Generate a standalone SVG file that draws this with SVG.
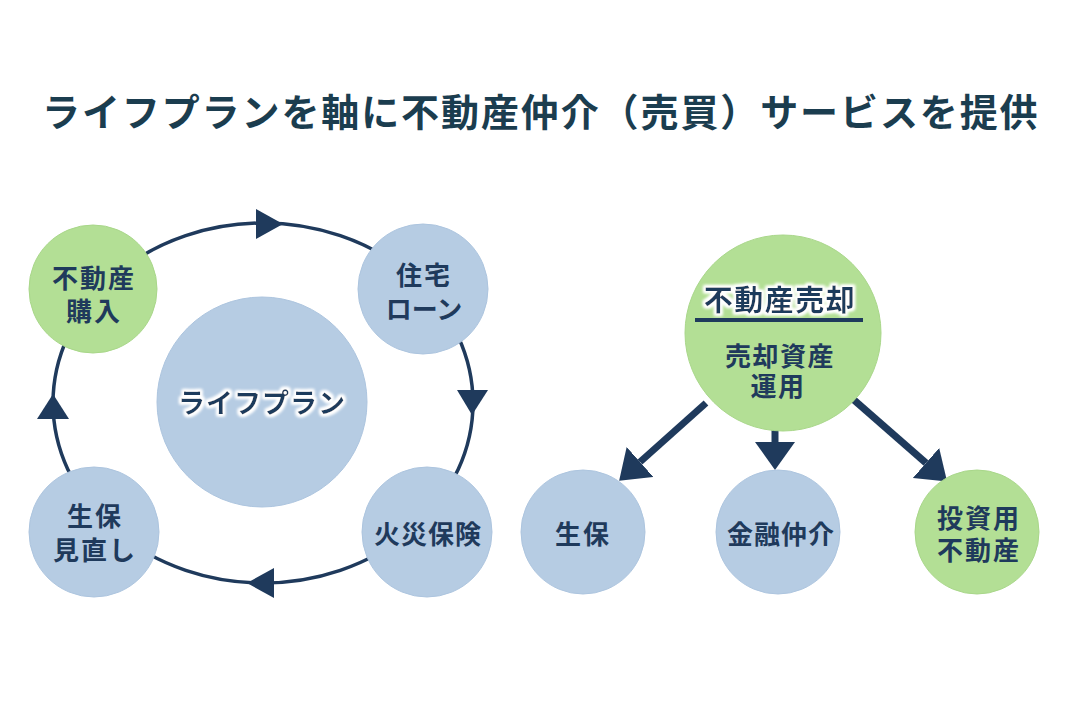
<svg xmlns="http://www.w3.org/2000/svg" width="1080" height="720" viewBox="0 0 1080 720">
<style>
.t{font-family:"Noto Sans CJK JP","Noto Sans",sans-serif;font-weight:700;fill:#1f3a5c;text-anchor:middle;dominant-baseline:central}
.title{font-family:"Noto Sans CJK JP","Noto Sans",sans-serif;font-weight:700;fill:#1b3d4f;font-size:38px;letter-spacing:1.9px}
.blue{fill:#b6cce3;stroke:#adc5df;stroke-width:1}
.green{fill:#b3df95;stroke:#a9d78a;stroke-width:1}
.ring{fill:none;stroke:#1f3a5c;stroke-width:3.5}
.shaft{stroke:#1f3a5c;stroke-width:7;fill:none}
.head{fill:#1f3a5c}
</style>
<defs>
<marker id="ah" markerUnits="userSpaceOnUse" markerWidth="28" markerHeight="40" viewBox="0 0 28 40" refX="0" refY="20" orient="auto">
<path d="M0,0 L28,20 L0,40 z" fill="#1f3a5c"/>
</marker>
<filter id="glow" x="-20%" y="-50%" width="140%" height="200%">
<feMorphology in="SourceAlpha" operator="dilate" radius="2" result="d"/>
<feGaussianBlur in="d" stdDeviation="1.6" result="b"/>
<feFlood flood-color="#ffffff"/>
<feComposite in2="b" operator="in" result="g"/>
<feMerge><feMergeNode in="g"/><feMergeNode in="g"/><feMergeNode in="SourceGraphic"/></feMerge>
</filter>
</defs>
<rect width="1080" height="720" fill="#ffffff"/>
<text id="title" class="title" x="42" y="126">ライフプランを軸に不動産仲介（売買）サービスを提供</text>

<g id="connectors">
<ellipse class="ring" cx="263" cy="403" rx="210" ry="180"/>
<path class="head" d="M256,209 L283,224 L256,239 z"/>
<path class="head" d="M457,390 L488,390 L472,415 z"/>
<path class="head" d="M274,568 L247,583 L274,598 z"/>
<path class="head" d="M37,419 L69,419 L53,394 z"/>
<line class="shaft" x1="775" y1="428" x2="775" y2="442" marker-end="url(#ah)"/>
<line class="shaft" x1="706" y1="403" x2="640" y2="462" marker-end="url(#ah)"/>
<line class="shaft" x1="854" y1="400" x2="926" y2="463" marker-end="url(#ah)"/>
</g>

<g id="lifeplan">
<circle class="blue" cx="262" cy="402" r="105"/>
<text class="t" x="262" y="401" font-size="27" letter-spacing="1" filter="url(#glow)">ライフプラン</text>
</g>
<g id="fudosan-kounyu">
<circle class="green" cx="93" cy="289" r="64"/>
<text class="t" x="94" y="276" font-size="26" letter-spacing="2">不動産</text>
<text class="t" x="94" y="309" font-size="26" letter-spacing="2">購入</text>
</g>
<g id="jutaku-loan">
<circle class="blue" cx="423" cy="289" r="65"/>
<text class="t" x="424" y="273" font-size="26" letter-spacing="2">住宅</text>
<text class="t" x="424" y="307" font-size="26" letter-spacing="0">ローン</text>
</g>
<g id="seiho-minaoshi">
<circle class="blue" cx="94" cy="532" r="65"/>
<text class="t" x="95" y="514" font-size="26" letter-spacing="2">生保</text>
<text class="t" x="95" y="548" font-size="26" letter-spacing="2">見直し</text>
</g>
<g id="kasai-hoken">
<circle class="blue" cx="427" cy="532" r="65"/>
<text class="t" x="428" y="532" font-size="26" letter-spacing="1">火災保険</text>
</g>

<g id="fudosan-baikyaku">
<circle class="green" cx="783" cy="333" r="98"/>
<text class="t" x="780" y="298" font-size="29" letter-spacing="1.5" filter="url(#glow)">不動産売却</text>
<rect x="695" y="318" width="168" height="4" fill="#1f3a5c"/>
<text class="t" x="780" y="354" font-size="26" letter-spacing="1.5">売却資産</text>
<text class="t" x="778" y="384" font-size="26" letter-spacing="1.5">運用</text>
</g>
<g id="seiho">
<circle class="blue" cx="583" cy="532" r="62"/>
<text class="t" x="583" y="532" font-size="26" letter-spacing="2">生保</text>
</g>
<g id="kinyu-chukai">
<circle class="blue" cx="778" cy="532" r="62"/>
<text class="t" x="781" y="532" font-size="26" letter-spacing="1">金融仲介</text>
</g>
<g id="toshiyou-fudosan">
<circle class="green" cx="977" cy="532" r="62"/>
<text class="t" x="979" y="516" font-size="26" letter-spacing="2">投資用</text>
<text class="t" x="979" y="548" font-size="26" letter-spacing="2">不動産</text>
</g>
</svg>
